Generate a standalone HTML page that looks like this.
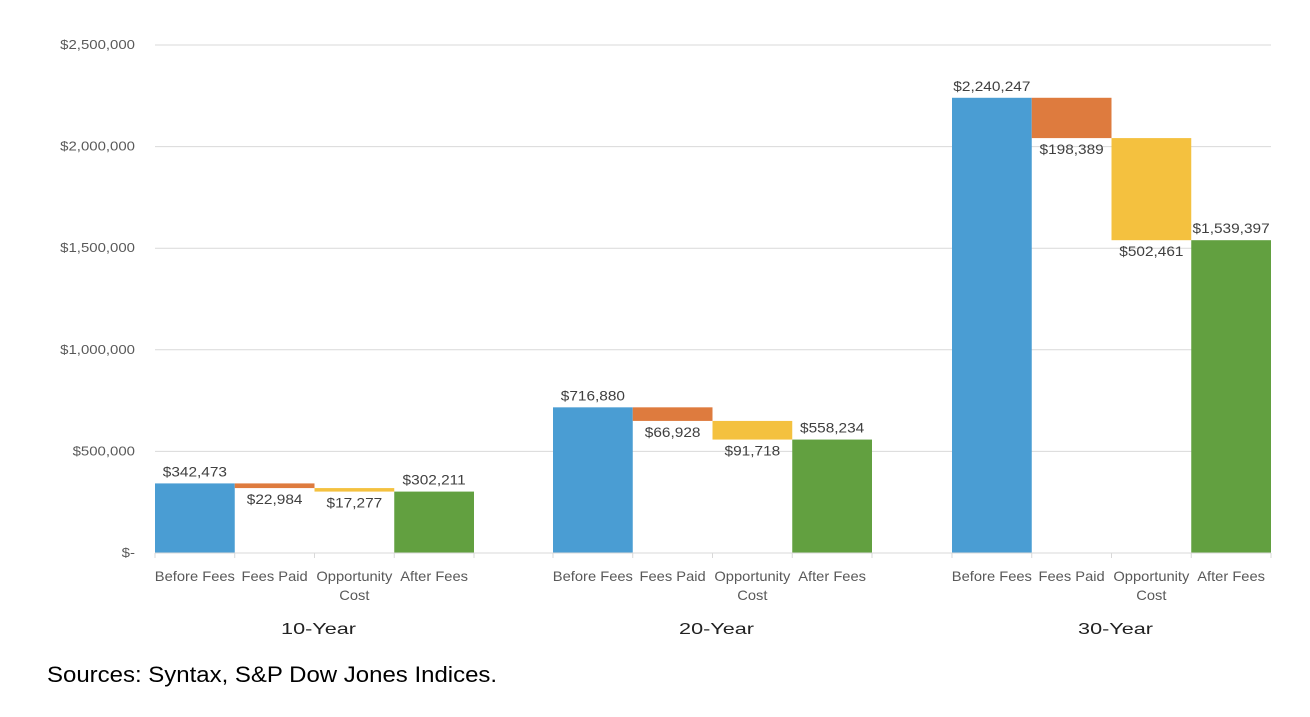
<!DOCTYPE html>
<html><head><meta charset="utf-8"><style>
body{margin:0;background:#fff;width:1310px;height:712px;overflow:hidden;font-family:"Liberation Sans",Arial,sans-serif}
svg text{font-family:"Liberation Sans",Arial,sans-serif}
</style></head><body>
<svg id="chart" width="1310" height="712" xmlns="http://www.w3.org/2000/svg"></svg>
<script>
const groups = ["10-Year","20-Year","30-Year"];
const categories = ["Before Fees","Fees Paid","Opportunity|Cost","After Fees"];
const beforeFees = [342473, 716880, 2240247];
const feesPaid = [22984, 66928, 198389];
const oppCost = [17277, 91718, 502461];
const afterFees = [302211, 558234, 1539397];
const yTicks = [0, 500000, 1000000, 1500000, 2000000, 2500000];
const yTickLabels = ["$-","$500,000","$1,000,000","$1,500,000","$2,000,000","$2,500,000"];

const svg = document.getElementById('chart');
const NS = 'http://www.w3.org/2000/svg';
const y0 = 553, pxPer = (553-45)/2500000;
function y(v){ return y0 - v*pxPer; }
const groupStart = [155, 553, 952], barW = 79.75;
function x(g,i){ return groupStart[g] + i*barW; }
function mk(tag, attrs){ const e=document.createElementNS(NS,tag); for(const k in attrs) e.setAttribute(k,attrs[k]); svg.appendChild(e); return e; }
function fmt(v){ return '$'+v.toLocaleString('en-US'); }
function stretch(t, r){ const w=t.getComputedTextLength(); t.setAttribute('textLength', (w*r).toFixed(1)); t.setAttribute('lengthAdjust','spacingAndGlyphs'); }

yTicks.forEach((t,i)=>{
  const l = mk('line',{x1:155,x2:1271,y1:y(t),y2:y(t),stroke:'#d9d9d9','stroke-width':1});
  
  
  const tx = mk('text',{x:135,y:y(t)+4,'text-anchor':'end','font-size':13,fill:'#595959'});
  tx.textContent = yTickLabels[i];
  
  
  stretch(tx,1.15);
});

const colors = ['#4a9dd3','#de7b3e','#f4c13f','#62a040'];
groups.forEach((gname,g)=>{
  const b=beforeFees[g], f=feesPaid[g], o=oppCost[g], a=afterFees[g];
  const segs = [[0,b],[b-f,b],[b-f-o,b-f],[0,a]];
  segs.forEach((s,i)=>{
    const r = mk('rect',{x:x(g,i),y:y(s[1]),width:barW,height:Math.max(y(s[0])-y(s[1]),1),fill:colors[i]});
    
    
  });
  const labs = [[b,y(b)-7],[f,y(b-f)+16],[o,y(b-f-o)+16],[a,y(a)-7]];
  labs.forEach((L,i)=>{
    const t = mk('text',{x:x(g,i)+barW/2,y:L[1],'text-anchor':'middle','font-size':14,fill:'#404040'});
    t.textContent = fmt(L[0]);
    
    
    stretch(t,1.1);
  });
  for(let i=0;i<=4;i++){
    const tk = mk('line',{x1:x(g,i),x2:x(g,i),y1:553,y2:558,stroke:'#d9d9d9'});
    
    
  }
  const ax = mk('line',{x1:x(g,0),x2:x(g,4),y1:553,y2:553,stroke:'#d9d9d9'});
  
  
  categories.forEach((c,i)=>{
    c.split('|').forEach((ln,j)=>{
      const t = mk('text',{x:x(g,i)+barW/2,y:581+j*19,'text-anchor':'middle','font-size':14,fill:'#595959'});
      t.textContent = ln;
      
      
      stretch(t,1.05);
    });
  });
  const gl = mk('text',{x:x(g,2)+4,y:634,'text-anchor':'middle','font-size':16,fill:'#222'});
  gl.textContent = gname;
  
  
  stretch(gl,1.35);
});
const src = mk('text',{x:47,y:682,'font-size':22,fill:'#000'});
src.textContent = 'Sources: Syntax, S&P Dow Jones Indices.';


stretch(src,1.09);
</script>
</body></html>
